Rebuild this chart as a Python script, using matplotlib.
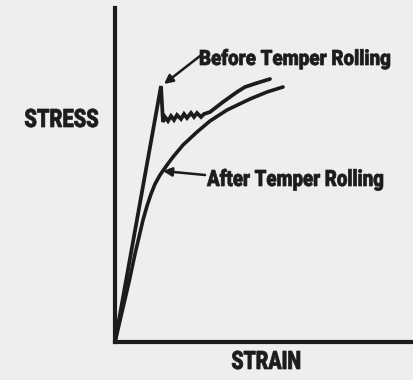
import matplotlib
matplotlib.use("Agg")
import matplotlib.pyplot as plt
from matplotlib.font_manager import FontProperties
from matplotlib.textpath import TextPath
from matplotlib.patches import PathPatch
from matplotlib.transforms import Affine2D

# Stress-strain curves (arbitrary units) for steel sheet
before_strain = [0, 46, 48, 50, 53, 56, 59, 62, 66, 69, 72, 76, 79, 82, 86, 89,
                 95, 108, 122, 130, 142, 155]
before_stress = [0, 256, 220, 225, 221, 226, 222, 227, 223, 228, 224, 229, 225, 229, 225, 228,
                 230, 240, 250, 255, 259, 263]

after_strain = [0, 7, 14, 20, 24, 28, 32, 36, 40, 45, 52, 58, 68, 82, 95, 112, 135, 152, 168]
after_stress = [0, 30, 60, 88, 105, 122, 136, 148, 158, 167, 177, 185, 197, 210, 221, 232, 243, 250, 255]

ink = "#1c1c1c"
paper = "#eeeeec"
font = FontProperties(family=["Roboto", "DejaVu Sans"], weight="black")

W, H = 413, 380
fig = plt.figure(figsize=(W / 100, H / 100), dpi=100, facecolor=paper)
ax = fig.add_axes([115 / W, 38 / H, 298 / W, 334 / H], facecolor=paper)

ax.plot(before_strain, before_stress, color=ink, lw=2.7,
        solid_joinstyle="miter", solid_capstyle="round")
ax.plot(after_strain, after_stress, color=ink, lw=2.6,
        solid_joinstyle="round", solid_capstyle="round")

ax.set_xlim(0, 298)
ax.set_ylim(0, 334)
ax.set_xticks([])
ax.set_yticks([])
for side in ["top", "right"]:
    ax.spines[side].set_visible(False)
for side in ["left", "bottom"]:
    ax.spines[side].set_linewidth(3)
    ax.spines[side].set_color(ink)


def condensed_text(text, left, right, baseline, cap):
    """Draw text squeezed into [left, right] px with a given cap height (px from top-left)."""
    path = TextPath((0, 0), text, size=100, prop=font)
    box = path.get_extents()
    cap_ref = TextPath((0, 0), "H", size=100, prop=font).get_extents().height
    sx = (right - left) / box.width
    sy = cap / cap_ref
    tr = Affine2D().translate(-box.x0, 0).scale(sx, sy).translate(left, H - baseline)
    patch = PathPatch(tr.transform_path(path), facecolor=ink, edgecolor=ink, linewidth=0.5,
                      transform=Affine2D().scale(1 / W, 1 / H) + fig.transFigure)
    fig.add_artist(patch)


# curve labels with arrows
arrow = dict(arrowstyle="-|>", color=ink, lw=1.8, mutation_scale=13,
             shrinkA=0, shrinkB=0)
ax.annotate("", xy=(before_strain[1] + 3, before_stress[1] + 2), xytext=(85, 286),
            arrowprops=arrow)
condensed_text("Before Temper Rolling", 200, 390, 65, 15)

ax.annotate("", xy=(48, 171), xytext=(90, 167), arrowprops=arrow)
condensed_text("After Temper Rolling", 207, 383, 186, 16)

# axis titles
condensed_text("STRESS", 25, 98, 127, 18)
condensed_text("STRAIN", 232, 300, 369, 18)

fig.savefig("out.png", dpi=100, facecolor=paper)
